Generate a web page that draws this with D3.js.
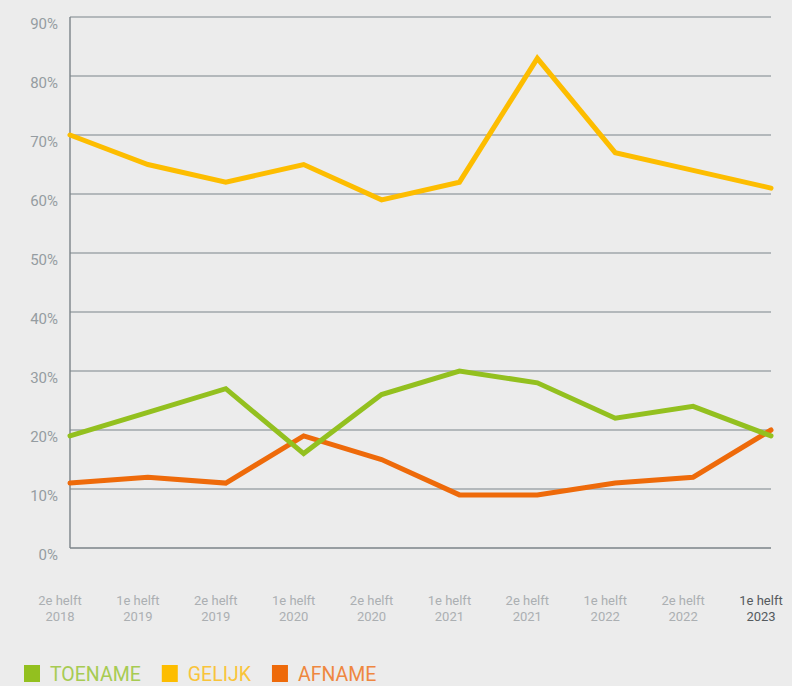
<!DOCTYPE html>
<html>
<head>
<meta charset="utf-8">
<script src="https://cdn.jsdelivr.net/npm/d3@7"></script>
<style>
  html, body { margin: 0; padding: 0; background: #ececec; }
  svg { display: block; font-family: "Roboto", "DejaVu Sans Condensed", sans-serif; }
</style>
</head>
<body>
<div id="chart"></div>
<script>
const width = 792;
const height = 686;

// data
const periods = [
  ["2e helft", "2018"], ["1e helft", "2019"], ["2e helft", "2019"], ["1e helft", "2020"],
  ["2e helft", "2020"], ["1e helft", "2021"], ["2e helft", "2021"], ["1e helft", "2022"],
  ["2e helft", "2022"], ["1e helft", "2023"]
];
const gelijk  = [70, 65, 62, 65, 59, 62, 83, 67, 64, 61];
const toename = [19, 23, 27, 16, 26, 30, 28, 22, 24, 19];
const afname  = [11, 12, 11, 19, 15, 9, 9, 11, 12, 20];
const yTicks = [0, 10, 20, 30, 40, 50, 60, 70, 80, 90];

const seriesList = [
  { name: "GELIJK", values: gelijk, color: "#fdbd00", text: "#f9c43a" },
  { name: "AFNAME", values: afname, color: "#ee6a0a", text: "#ef8740" },
  { name: "TOENAME", values: toename, color: "#93c01f", text: "#a7cb52" }
];
const legendOrder = ["TOENAME", "GELIJK", "AFNAME"];

const margin = { left: 70, right: 21, top: 17, bottom: 138 };

const svg = d3.select("#chart").append("svg")
    .attr("width", width).attr("height", height);

const x = d3.scalePoint()
    .domain(d3.range(periods.length))
    .range([margin.left, width - margin.right]);

const y = d3.scaleLinear()
    .domain([0, 90])
    .range([height - margin.bottom, margin.top]);

// gridlines
svg.append("g")
  .selectAll("line")
  .data(yTicks)
  .join("line")
    .attr("x1", margin.left)
    .attr("x2", width - margin.right)
    .attr("y1", d => y(d))
    .attr("y2", d => y(d))
    .attr("stroke", "#7b8389")
    .attr("stroke-width", d => d === 0 ? 1.6 : 1.2);

// left axis line
svg.append("line")
    .attr("x1", margin.left).attr("x2", margin.left)
    .attr("y1", y(90)).attr("y2", y(0))
    .attr("stroke", "#7b8389")
    .attr("stroke-width", 1.4);

// y labels
svg.append("g")
  .selectAll("text")
  .data(yTicks)
  .join("text")
    .attr("x", 58)
    .attr("y", d => y(d) + 12)
    .attr("text-anchor", "end")
    .attr("fill", "#959ca1")
    .attr("font-size", 15)
    .text(d => d + "%");

// x labels
const xl = svg.append("g")
  .selectAll("text")
  .data(periods)
  .join("text")
    .attr("text-anchor", "middle")
    .attr("font-size", 13)
    .attr("fill", (d, i) => i === periods.length - 1 ? "#555a5e" : "#abafb2");
xl.append("tspan")
    .attr("x", (d, i) => x(i) - 10)
    .attr("y", 605)
    .text(d => d[0]);
xl.append("tspan")
    .attr("x", (d, i) => x(i) - 10)
    .attr("y", 621)
    .text(d => d[1]);

// lines
const line = d3.line()
    .x((d, i) => x(i))
    .y(d => y(d));

svg.append("g")
  .selectAll("path")
  .data(seriesList)
  .join("path")
    .attr("d", d => line(d.values))
    .attr("fill", "none")
    .attr("stroke", d => d.color)
    .attr("stroke-width", 5)
    .attr("stroke-linecap", "round")
    .attr("stroke-linejoin", "miter");

// legend
let lx = 24;
const legend = svg.append("g");
legendOrder.forEach(name => {
  const s = seriesList.find(d => d.name === name);
  legend.append("rect")
      .attr("x", lx).attr("y", 665)
      .attr("width", 16).attr("height", 17)
      .attr("fill", s.color);
  const t = legend.append("text")
      .attr("x", lx + 26).attr("y", 681)
      .attr("font-size", 19.5)
      .attr("fill", s.text)
      .text(name);
  lx += 26 + t.node().getComputedTextLength() + 21;
});
</script>
</body>
</html>
